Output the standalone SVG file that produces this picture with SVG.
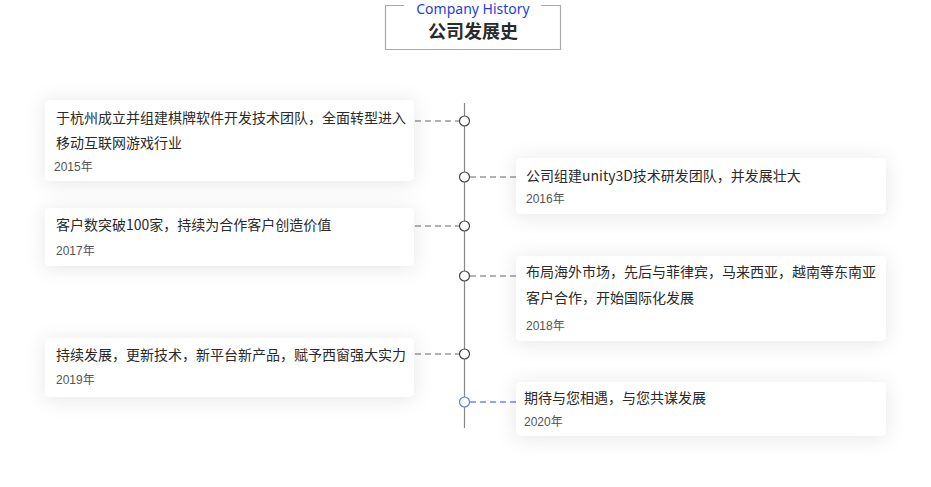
<svg xmlns="http://www.w3.org/2000/svg" width="931" height="487" viewBox="0 0 931 487">
<defs>
<filter id="sh" x="-20%" y="-40%" width="140%" height="180%">
<feDropShadow dx="0" dy="2" stdDeviation="10" flood-color="#000" flood-opacity="0.1"/>
</filter>
<linearGradient id="gl" x1="0" x2="1" y1="0" y2="0">
<stop offset="0" stop-color="#888" stop-opacity="0"/>
<stop offset="1" stop-color="#666"/>
</linearGradient>
<linearGradient id="gr" x1="0" x2="1" y1="0" y2="0">
<stop offset="0" stop-color="#666"/>
<stop offset="1" stop-color="#888" stop-opacity="0"/>
</linearGradient>
<style>
.card{fill:#fff;filter:url(#sh)}
.t{font-family:"Noto Sans CJK SC","Liberation Sans",sans-serif;font-size:14px;fill:#2a2a2a}
.y{font-family:"Liberation Sans","Noto Sans CJK SC",sans-serif;font-size:12px;fill:#555}
.dash{stroke:#999;stroke-width:1.3;stroke-dasharray:6 4;fill:none}
.dot{fill:#fff;stroke:#444;stroke-width:1.2}
</style>
</defs>
<rect width="931" height="487" fill="#fff"/>
<g id="title">
<line x1="285" y1="23" x2="361" y2="23" stroke="url(#gl)" stroke-width="1.2"/>
<line x1="583" y1="23" x2="705" y2="23" stroke="url(#gr)" stroke-width="1.2"/>
<path d="M404 5.5 H385.5 V49.5 H560.5 V5.5 H541" fill="none" stroke="#aaa" stroke-width="1.2"/>
<text x="473" y="14" text-anchor="middle" font-family="'Noto Sans','Liberation Sans',sans-serif" font-size="14" fill="#1e3fe0">Company History</text>
<text x="473" y="38" text-anchor="middle" font-family="'Noto Sans CJK SC',sans-serif" font-size="18" font-weight="bold" fill="#2a2a2a">公司发展史</text>
</g>
<g id="connectors">
<line x1="464.5" y1="103" x2="464.5" y2="428" stroke="#888" stroke-width="1.2"/>
<line class="dash" x1="415" y1="121" x2="459" y2="121"/>
<line class="dash" x1="470" y1="177" x2="516" y2="177"/>
<line class="dash" x1="415" y1="226" x2="459" y2="226"/>
<line class="dash" x1="470" y1="276" x2="516" y2="276"/>
<line class="dash" x1="415" y1="354" x2="459" y2="354"/>
<line class="dash" x1="470" y1="402" x2="516" y2="402" style="stroke:#6b8af0"/>
<circle class="dot" cx="464.5" cy="121" r="5"/>
<circle class="dot" cx="464.5" cy="177" r="5"/>
<circle class="dot" cx="464.5" cy="226" r="5"/>
<circle class="dot" cx="464.5" cy="276" r="5"/>
<circle class="dot" cx="464.5" cy="354" r="5"/>
<circle class="dot" cx="464.5" cy="402" r="5" style="stroke:#5b7cf0"/>
</g>
<g id="n2015">
<rect class="card" x="45" y="100" width="369" height="81" rx="5"/>
<text class="t" x="56" y="123">于杭州成立并组建棋牌软件开发技术团队，全面转型进入</text>
<text class="t" x="56" y="148">移动互联网游戏行业</text>
<text class="y" x="54" y="171">2015年</text>
</g>
<g id="n2016">
<rect class="card" x="516" y="158" width="370" height="56" rx="5"/>
<text class="t" x="526" y="181">公司组建unity3D技术研发团队，并发展壮大</text>
<text class="y" x="526" y="203">2016年</text>
</g>
<g id="n2017">
<rect class="card" x="45" y="208" width="369" height="58" rx="5"/>
<text class="t" x="56" y="230">客户数突破100家，持续为合作客户创造价值</text>
<text class="y" x="56" y="255">2017年</text>
</g>
<g id="n2018">
<rect class="card" x="516" y="256" width="370" height="85" rx="5"/>
<text class="t" x="526" y="277">布局海外市场，先后与菲律宾，马来西亚，越南等东南亚</text>
<text class="t" x="526" y="303">客户合作，开始国际化发展</text>
<text class="y" x="526" y="330">2018年</text>
</g>
<g id="n2019">
<rect class="card" x="45" y="338" width="369" height="59" rx="5"/>
<text class="t" x="56" y="360">持续发展，更新技术，新平台新产品，赋予西窗强大实力</text>
<text class="y" x="56" y="384">2019年</text>
</g>
<g id="n2020">
<rect class="card" x="516" y="382" width="370" height="54" rx="5"/>
<text class="t" x="524" y="403">期待与您相遇，与您共谋发展</text>
<text class="y" x="524" y="426">2020年</text>
</g>
</svg>
